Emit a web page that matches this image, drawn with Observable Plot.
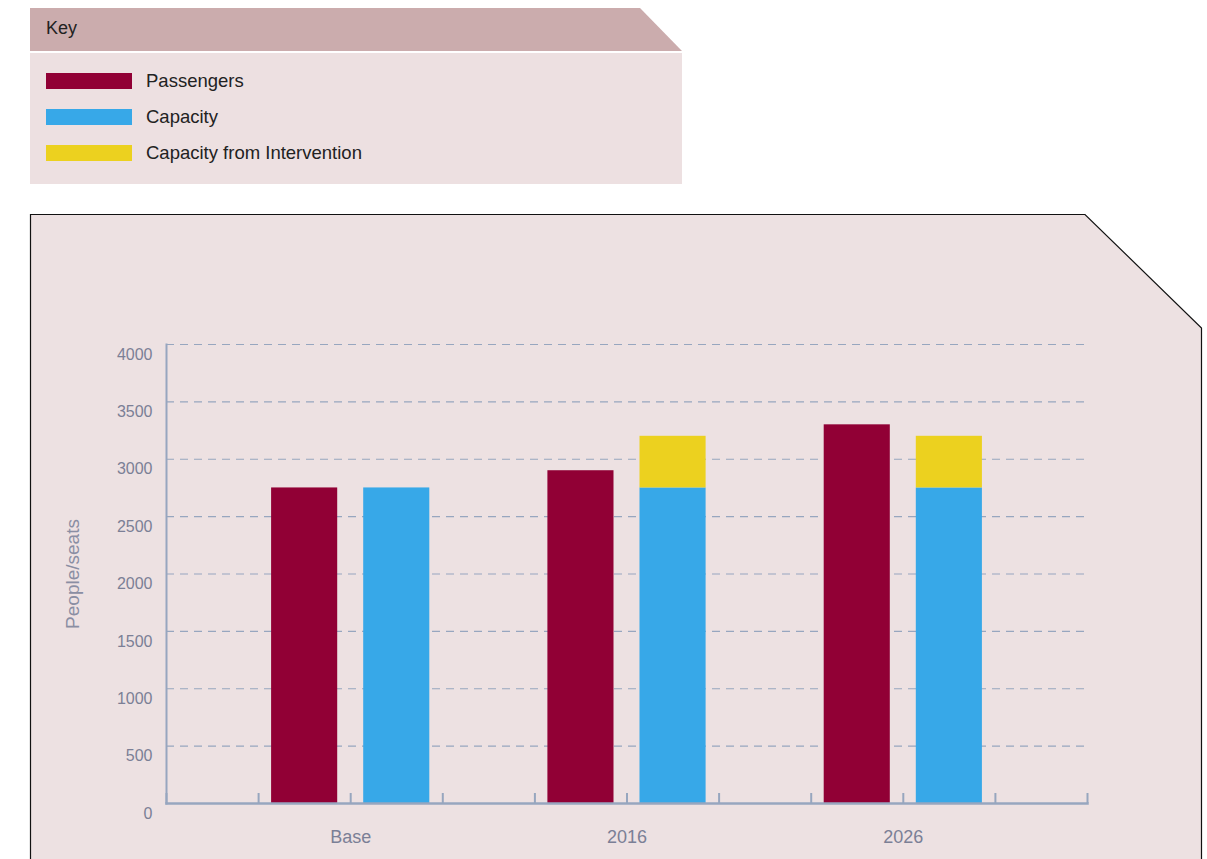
<!DOCTYPE html>
<html>
<head>
<meta charset="utf-8">
<script src="https://cdn.jsdelivr.net/npm/d3@7"></script>
<script src="https://cdn.jsdelivr.net/npm/@observablehq/plot@0.6"></script>
<style>
  html, body { margin: 0; padding: 0; background: #fff; width: 1207px; height: 859px; overflow: hidden; font-family: "Liberation Sans", Arial, sans-serif; }
  #deco { position: absolute; left: 0; top: 0; }
  #key { position: absolute; left: 0; top: 0; }
  .kitem { position: absolute; left: 46px; height: 16px; display: flex; align-items: center; }
  .sw { width: 86px; height: 16px; }
  .kl { margin-left: 14px; font-size: 18.5px; color: #222; white-space: nowrap; }
  #chart { position: absolute; left: 30px; top: 214px; }
</style>
</head>
<body>
<svg id="deco" width="1207" height="859">
  <polygon points="30,8 640,8 682,51 30,51" fill="#cbacad"/>
  <rect x="30" y="53" width="652" height="131" fill="#ede0e1"/>
  <text x="46" y="34" font-size="18" fill="#222" font-family="Liberation Sans, Arial, sans-serif">Key</text>
  <polygon points="30.5,214.5 1085,214.5 1201.5,328 1201.5,900 30.5,900" fill="#ede1e2" stroke="#111" stroke-width="1.2"/>
</svg>
<div id="key"></div>
<div id="chart"></div>
<script>
// ---- data ----
const categories = ["Base", "2016", "2026"];
const passengers = [2750, 2900, 3300];
const capacity = [2750, 2750, 2750];
const intervention = [0, 450, 450];
const seriesNames = ["Passengers", "Capacity", "Capacity from Intervention"];
const seriesColors = ["#910035", "#37a8e8", "#ecd11f"];
const yTicks = [0, 500, 1000, 1500, 2000, 2500, 3000, 3500, 4000];

// ---- key ----
const key = document.getElementById("key");
seriesNames.forEach((name, i) => {
  const item = document.createElement("div");
  item.className = "kitem";
  item.style.top = (73 + i * 36) + "px";
  item.innerHTML = `<div class="sw" style="background:${seriesColors[i]}"></div><div class="kl">${name}</div>`;
  key.appendChild(item);
});

// ---- table ----
const rows = [];
categories.forEach((c, i) => {
  const base = 3 * i + 1;
  rows.push({slot: base, series: seriesNames[0], y1: 0, y2: passengers[i]});
  rows.push({slot: base + 1, series: seriesNames[1], y1: 0, y2: capacity[i]});
  if (intervention[i] > 0)
    rows.push({slot: base + 1, series: seriesNames[2], y1: capacity[i], y2: capacity[i] + intervention[i]});
});
const nSlots = 3 * categories.length + 1;
const slotTicks = d3.range(0, nSlots + 1);

const axisColor = "#97a6bf";
const textColor = "#7b7f96";

const chart = Plot.plot({
  width: 1172,
  height: 645,
  marginLeft: 136,
  marginRight: 115,
  marginTop: 130,
  marginBottom: 56,
  style: {background: "transparent", fontFamily: "Liberation Sans, Arial, sans-serif", overflow: "visible"},
  x: {type: "linear", domain: [0, nSlots], axis: null},
  y: {domain: [0, 4000], axis: null},
  color: {domain: seriesNames, range: seriesColors},
  marks: [
    Plot.gridY(yTicks, {stroke: axisColor, strokeOpacity: 1, strokeWidth: 1.2, strokeDasharray: "8,6"}),
    Plot.rectY(rows, {x1: "slot", x2: d => d.slot + 1, y1: "y1", y2: "y2", fill: "series", insetLeft: 13, insetRight: 13}),
    Plot.tickX(slotTicks, {x: d => d, stroke: axisColor, strokeWidth: 2, insetTop: 449}),
    Plot.frame({anchor: "left", stroke: axisColor, strokeWidth: 2}),
    Plot.frame({anchor: "bottom", stroke: axisColor, strokeWidth: 2.5}),
    Plot.axisY(yTicks, {tickSize: 0, tickPadding: 14, dy: 10, fontSize: 16, fill: textColor, label: null, tickFormat: d => String(d)}),
    Plot.text(categories, {x: (d, i) => 3 * i + 2, frameAnchor: "bottom", dy: 39, text: d => d, fontSize: 18, fill: textColor}),
    Plot.text(["People/seats"], {frameAnchor: "left", textAnchor: "middle", dx: -94, rotate: -90, text: d => d, fontSize: 19, fill: "#8a8ea3"})
  ]
});
document.getElementById("chart").appendChild(chart);
</script>
</body>
</html>
